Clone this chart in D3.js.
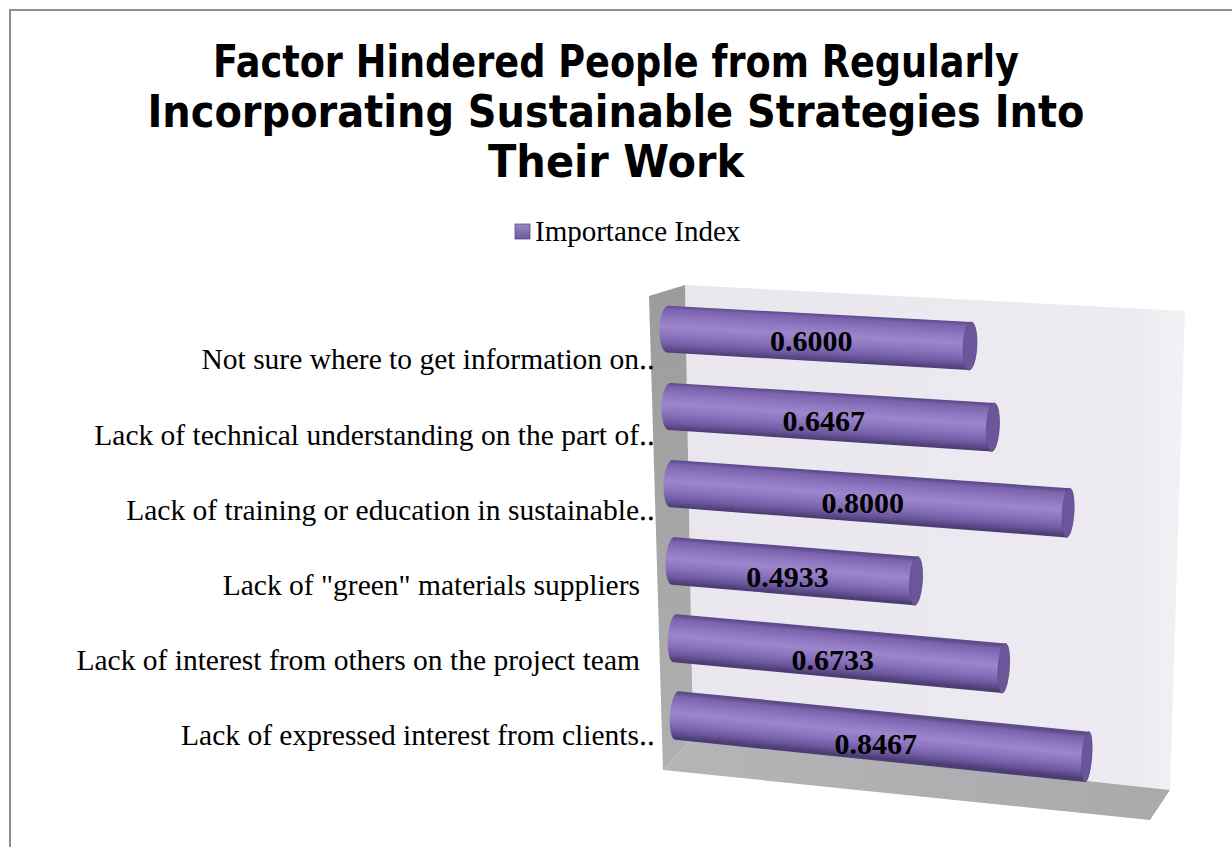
<!DOCTYPE html>
<html>
<head>
<meta charset="utf-8">
<script src="https://cdn.jsdelivr.net/npm/d3@7"></script>
<style>
  body { margin: 0; background: #fff; }
  svg { display: block; }
</style>
</head>
<body>
<script>
// chart data
const titleLines = [
  'Factor Hindered People from Regularly',
  'Incorporating Sustainable Strategies Into',
  'Their Work'
];
const seriesName = 'Importance Index';
const categories = [
  'Not sure where to get information on\u2025',
  'Lack of technical understanding on the part of\u2025',
  'Lack of training or education in sustainable\u2025',
  'Lack of "green" materials suppliers',
  'Lack of interest from others on the project team',
  'Lack of expressed interest from clients\u2025'
];
const values = [0.6000, 0.6467, 0.8000, 0.4933, 0.6733, 0.8467];

const width = 1232;
const height = 847;

const svg = d3.select('body').append('svg')
  .attr('width', width)
  .attr('height', height);

const defs = svg.append('defs');

// chart frame (cut off at the right and bottom like the original)
svg.append('rect')
  .attr('x', 10).attr('y', 10)
  .attr('width', width + 20).attr('height', height + 20)
  .attr('fill', '#fff')
  .attr('stroke', '#8e8e8e')
  .attr('stroke-width', 2);

// title
const titleWidths = [806, 937, 256];
svg.append('g')
  .selectAll('text')
  .data(titleLines)
  .join('text')
  .attr('x', 616)
  .attr('y', (d, i) => 77 + i * 50)
  .attr('text-anchor', 'middle')
  .attr('textLength', (d, i) => titleWidths[i])
  .attr('lengthAdjust', 'spacingAndGlyphs')
  .style('font-family', "Tahoma, 'DejaVu Sans Condensed', 'DejaVu Sans', sans-serif")
  .style('font-weight', 'bold')
  .style('font-size', '45px')
  .text((d) => d);

// legend
const legendGrad = defs.append('linearGradient')
  .attr('id', 'legendGrad')
  .attr('x1', 0).attr('y1', 0).attr('x2', 0).attr('y2', 1);
legendGrad.append('stop').attr('offset', 0).attr('stop-color', '#9a85c8');
legendGrad.append('stop').attr('offset', 1).attr('stop-color', '#6c58a0');

const legend = svg.append('g');
legend.append('rect')
  .attr('x', 515).attr('y', 224)
  .attr('width', 15).attr('height', 15)
  .attr('fill', 'url(#legendGrad)')
  .attr('stroke', '#5b4a87')
  .attr('stroke-width', 0.8);
legend.append('text')
  .attr('x', 535).attr('y', 241)
  .style('font-family', "'Liberation Serif', 'Times New Roman', serif")
  .style('font-size', '29px')
  .text(seriesName);

// 3d box: front (z=0) and back (z=1) planes of the plot box
const frontQuad = { tl: [649, 296], tr: [1160, 322], bl: [663, 770], br: [1150, 820] };
const backQuad = { tl: [685, 285], tr: [1185, 311], bl: [693, 738], br: [1170, 790] };

const lerp = (a, b, t) => [a[0] + (b[0] - a[0]) * t, a[1] + (b[1] - a[1]) * t];
function bilerp(q, u, v) {
  return lerp(lerp(q.tl, q.tr, u), lerp(q.bl, q.br, u), v);
}
// u: along value axis, v: along category axis, z: depth
function proj(u, v, z) {
  return lerp(bilerp(frontQuad, u, v), bilerp(backQuad, u, v), z);
}

const xscale = d3.scaleLinear().domain([0, 1]).range([0, 1]);
const yscale = d3.scaleBand()
  .domain(categories)
  .range([0, 1])
  .paddingInner(0.4)
  .paddingOuter(0.2);

const poly = (pts) => 'M' + pts.map((p) => p.join(',')).join('L') + 'Z';

function wallGrad(id, x1, y1, x2, y2, stops) {
  const g = defs.append('linearGradient').attr('id', id)
    .attr('x1', x1).attr('y1', y1).attr('x2', x2).attr('y2', y2);
  stops.forEach((s) => g.append('stop').attr('offset', s[0]).attr('stop-color', s[1]));
}
wallGrad('backGrad', 0, 0, 1, 0, [[0, '#e9e6ee'], [0.9, '#edebf1'], [1, '#f2f1f5']]);
wallGrad('sideGrad', 0, 0, 0, 1, [[0, '#9c9c9c'], [1, '#b0b0b0']]);
wallGrad('floorGrad', 0, 0, 1, 0, [[0, '#b5b5b7'], [1, '#aaaaac']]);

const walls = svg.append('g');
walls.append('path')
  .attr('d', poly([proj(0, 0, 1), proj(1, 0, 1), proj(1, 1, 1), proj(0, 1, 1)]))
  .attr('fill', 'url(#backGrad)');
walls.append('path')
  .attr('d', poly([proj(0, 0, 0), proj(0, 0, 1), proj(0, 1, 1), proj(0, 1, 0)]))
  .attr('fill', 'url(#sideGrad)');
walls.append('path')
  .attr('d', poly([proj(0, 1, 0), proj(0, 1, 1), proj(1, 1, 1), proj(1, 1, 0)]))
  .attr('fill', 'url(#floorGrad)');

// cylinders
const zc = 0.5;
const rz = 0.24;
const rv = yscale.bandwidth() / 2;

function ring(u, vc) {
  return d3.range(0, 64).map((k) => {
    const t = (k / 64) * Math.PI * 2;
    return proj(u, vc + rv * Math.cos(t), zc + rz * Math.sin(t));
  });
}

const barData = categories.map((c, i) => ({ name: c, value: values[i], i }));

const bars = svg.append('g')
  .selectAll('g')
  .data(barData)
  .join('g');

bars.each(function (d) {
  const g = d3.select(this);
  const vc = yscale(d.name) + rv;
  const u1 = xscale(d.value);
  const left = ring(0, vc);
  const right = ring(u1, vc);
  const hull = d3.polygonHull(left.concat(right));

  // gradient across the cylinder, perpendicular to its axis
  const a0 = proj(0, vc, zc);
  const a1 = proj(u1, vc, zc);
  const len = Math.hypot(a1[0] - a0[0], a1[1] - a0[1]);
  const n = [-(a1[1] - a0[1]) / len, (a1[0] - a0[0]) / len];
  const c = proj(u1 / 2, vc, zc);
  const pt = proj(u1 / 2, vc - rv, zc - rz * 0.3);
  const pb = proj(u1 / 2, vc + rv, zc + rz * 0.3);
  const h = Math.abs((pb[0] - pt[0]) * n[0] + (pb[1] - pt[1]) * n[1]) / 2 + 1;

  const grad = defs.append('linearGradient')
    .attr('id', 'barGrad' + d.i)
    .attr('gradientUnits', 'userSpaceOnUse')
    .attr('x1', c[0] - n[0] * h).attr('y1', c[1] - n[1] * h)
    .attr('x2', c[0] + n[0] * h).attr('y2', c[1] + n[1] * h);
  [[0, '#5e4c8c'], [0.08, '#7b64ae'], [0.3, '#917ac3'], [0.45, '#9c86cc'],
   [0.65, '#8b73bd'], [0.85, '#6f5aa2'], [1, '#4c3d75']]
    .forEach((s) => grad.append('stop').attr('offset', s[0]).attr('stop-color', s[1]));

  g.append('path')
    .attr('d', poly(hull))
    .attr('fill', 'url(#barGrad' + d.i + ')');

  g.append('path')
    .attr('d', poly(right))
    .attr('fill', '#6a5699')
    .attr('stroke', '#5a4887')
    .attr('stroke-width', 0.6);
});

// value labels
svg.append('g')
  .selectAll('text')
  .data(barData)
  .join('text')
  .attr('x', (d) => proj(xscale(d.value) / 2, yscale(d.name) + rv, zc - rz)[0])
  .attr('y', (d) => proj(xscale(d.value) / 2, yscale(d.name) + rv, zc - rz)[1])
  .attr('dy', '0.35em')
  .attr('text-anchor', 'middle')
  .style('font-family', "'Liberation Serif', 'Times New Roman', serif")
  .style('font-weight', 'bold')
  .style('font-size', '30px')
  .text((d) => d.value.toFixed(4));

// category labels
const labelScale = d3.scalePoint()
  .domain(categories)
  .range([359, 735]);

svg.append('g')
  .selectAll('text')
  .data(categories)
  .join('text')
  .attr('x', (d) => d.endsWith('\u2025') ? 655 : 640)
  .attr('y', (d) => labelScale(d))
  .attr('dy', '0.35em')
  .attr('text-anchor', 'end')
  .style('font-family', "'Liberation Serif', 'Times New Roman', serif")
  .style('font-size', '29.5px')
  .text((d) => d);
</script>
</body>
</html>
